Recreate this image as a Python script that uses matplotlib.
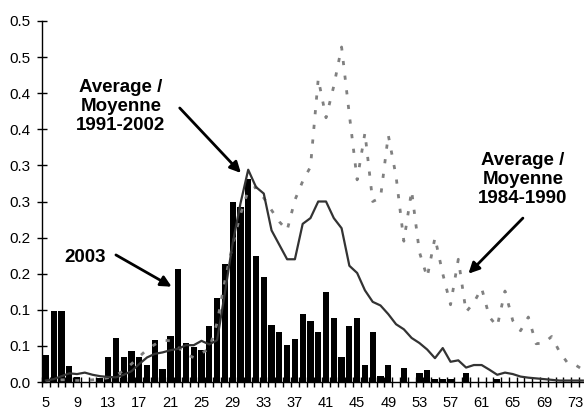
import numpy as np
import matplotlib
matplotlib.use("Agg")
import matplotlib.pyplot as plt

plt.rcParams['font.family'] = ['Liberation Sans', 'DejaVu Sans']

# week / category numbers
weeks = list(range(5, 75))

# 2003 bars
bars_2003 = [0.037, 0.098, 0.098, 0.022, 0.0074, 0, 0, 0.006, 0.034, 0.061,
             0.034, 0.043, 0.034, 0.024, 0.058, 0.018, 0.064, 0.157, 0.054, 0.048,
             0.045, 0.078, 0.116, 0.163, 0.249, 0.243, 0.281, 0.174, 0.146, 0.079,
             0.069, 0.051, 0.059, 0.094, 0.084, 0.069, 0.124, 0.089, 0.034, 0.078,
             0.089, 0.024, 0.069, 0.009, 0.024, 0, 0.020, 0, 0.012, 0.016,
             0.004, 0.004, 0.004, 0, 0.012, 0, 0, 0, 0.004, 0,
             0, 0, 0, 0, 0, 0, 0, 0, 0, 0]

# average 1991-2002 (solid)
avg_9102 = [0.002, 0.004, 0.008, 0.012, 0.011, 0.013, 0.010, 0.008, 0.007, 0.0065,
            0.010, 0.015, 0.025, 0.034, 0.039, 0.041, 0.044, 0.046, 0.051, 0.051,
            0.057, 0.052, 0.058, 0.123, 0.192, 0.247, 0.294, 0.270, 0.261, 0.210,
            0.190, 0.170, 0.170, 0.219, 0.227, 0.250, 0.250, 0.227, 0.213, 0.161,
            0.151, 0.127, 0.111, 0.106, 0.094, 0.080, 0.073, 0.061, 0.054, 0.045,
            0.033, 0.047, 0.028, 0.030, 0.020, 0.0235, 0.0235, 0.017, 0.010, 0.013,
            0.011, 0.0075, 0.006, 0.005, 0.004, 0.003, 0.002, 0.002, 0.002, 0.002]

# average 1984-1990 (dotted)
avg_8490 = [0.001, 0.002, 0.003, 0.003, 0.002, 0.002, 0.003, 0.004, 0.006, 0.009,
            0.016, 0.025, 0.035, 0.045, 0.052, 0.058, 0.057, 0.048, 0.038, 0.034,
            0.040, 0.046, 0.082, 0.140, 0.190, 0.232, 0.265, 0.270, 0.255, 0.238,
            0.222, 0.210, 0.252, 0.278, 0.298, 0.420, 0.366, 0.410, 0.464, 0.370,
            0.280, 0.345, 0.250, 0.255, 0.342, 0.285, 0.195, 0.265, 0.180, 0.145,
            0.200, 0.150, 0.107, 0.170, 0.097, 0.110, 0.130, 0.090, 0.077, 0.126,
            0.085, 0.071, 0.090, 0.053, 0.054, 0.063, 0.042, 0.027, 0.024, 0.017]

y_ticks = [0.0, 0.05, 0.10, 0.15, 0.20, 0.25, 0.30, 0.35, 0.40, 0.45, 0.50]
y_tick_labels = ['0.0', '0.1', '0.1', '0.2', '0.2', '0.3', '0.3', '0.4', '0.4', '0.5', '0.5']
x_tick_labels = list(range(5, 75, 4))

fig = plt.figure(figsize=(5.84, 4.12), dpi=100)
ax = fig.add_axes([42 / 584, 30 / 412, 544.7 / 584, 361 / 412])

ax.bar(weeks, bars_2003, width=0.8, color='black', zorder=2)
ax.plot(weeks, avg_8490, color='#808080', lw=2, linestyle=(0, (1.5, 3.8)),
        zorder=3)
ax.plot(weeks, avg_9102, color='#333333', lw=1.6, zorder=4)

ax.set_xlim(4.5, 74.5)
ax.set_ylim(0, 0.5)
ax.set_yticks(y_ticks)
ax.set_yticklabels(y_tick_labels)
ax.set_xticks(x_tick_labels)
ax.set_xticklabels([str(v) for v in x_tick_labels])
ax.set_xticks(np.arange(4.5, 75, 1), minor=True)

for side in ['top', 'right']:
    ax.spines[side].set_visible(False)
for side in ['left', 'bottom']:
    ax.spines[side].set_color('black')
    ax.spines[side].set_linewidth(1)
    ax.spines[side].set_zorder(5)

ax.tick_params(axis='y', direction='inout', length=7, width=1, labelsize=11, pad=5)
ax.tick_params(axis='x', which='major', length=0, labelsize=10.5, pad=10)
ax.tick_params(axis='x', which='minor', direction='inout', length=7, width=1)

bold = dict(fontsize=13.5, fontweight='bold', ha='center', va='center',
            linespacing=1.15)
ax.text(14.64, 0.382, 'Average /\nMoyenne\n1991-2002', **bold)
ax.text(10.1, 0.172, '2003', **bold)
ax.text(66.3, 0.280, 'Average /\nMoyenne\n1984-1990', **bold)

arrow = dict(arrowstyle='-|>', color='black', lw=2, mutation_scale=16,
             shrinkA=0, shrinkB=0)
ax.annotate('', xy=(30.06, 0.2895), xytext=(22.2, 0.3795), arrowprops=arrow)
ax.annotate('', xy=(21.16, 0.132), xytext=(14.0, 0.176), arrowprops=arrow)
ax.annotate('', xy=(59.3, 0.150), xytext=(66.3, 0.227), arrowprops=arrow)

fig.savefig('out.png', dpi=100)
